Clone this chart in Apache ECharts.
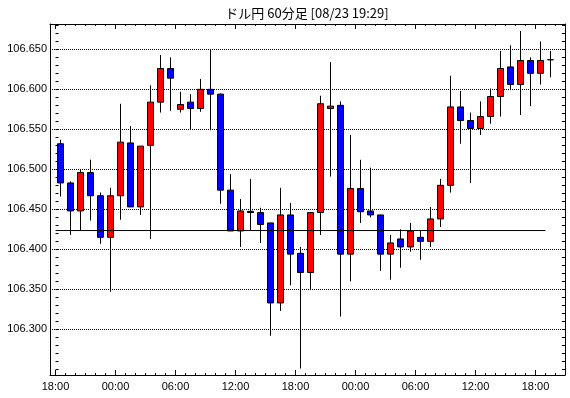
<!DOCTYPE html>
<html><head><meta charset="utf-8">
<script src="https://cdn.jsdelivr.net/npm/echarts@6/dist/echarts.min.js"></script>
<style>html,body{margin:0;padding:0;background:#fff}#c{width:570px;height:398px}</style>
</head><body><div id="c"></div>
<script>
const titleText = 'ドル円 60分足 [08/23 19:29]';
const times = ['18:00','19:00','20:00','21:00','22:00','23:00','00:00','01:00','02:00','03:00',
  '04:00','05:00','06:00','07:00','08:00','09:00','10:00','11:00','12:00','13:00',
  '14:00','15:00','16:00','17:00','18:00','19:00','20:00','21:00','22:00','23:00',
  '00:00','01:00','02:00','03:00','04:00','05:00','06:00','07:00','08:00','09:00',
  '10:00','11:00','12:00','13:00','14:00','15:00','16:00','17:00','18:00','19:00'];
const opens = [106.532,106.483,106.448,106.496,106.467,106.415,106.467,106.533,106.453,106.530,
  106.584,106.626,106.575,106.584,106.576,106.600,106.594,106.474,106.423,106.4475,
  106.446,106.433,106.333,106.443,106.395,106.371,106.446,106.576,106.580,106.394,
  106.476,106.448,106.443,106.394,106.413,106.403,106.415,106.410,106.438,106.480,
  106.578,106.561,106.551,106.566,106.591,106.628,106.606,106.636,106.620,106.637];
const closes = [106.483,106.448,106.496,106.467,106.415,106.467,106.534,106.453,106.529,106.584,
  106.626,106.614,106.581,106.576,106.600,106.594,106.474,106.423,106.448,106.446,
  106.431,106.333,106.443,106.394,106.371,106.446,106.582,106.579,106.394,106.476,
  106.447,106.443,106.394,106.408,106.403,106.423,106.410,106.438,106.480,106.578,
  106.561,106.551,106.566,106.591,106.626,106.606,106.636,106.620,106.636,106.637];
const lows = [106.466,106.418,106.423,106.436,106.407,106.347,106.437,106.453,106.443,106.413,
  106.571,106.573,106.571,106.550,106.572,106.549,106.457,106.423,106.403,106.424,
  106.408,106.292,106.323,106.355,106.251,106.349,106.418,106.491,106.316,106.360,
  106.433,106.440,106.373,106.362,106.377,106.397,106.387,106.403,106.428,106.471,
  106.532,106.483,106.543,106.557,106.566,106.599,106.568,106.579,106.606,106.615];
const highs = [106.537,106.485,106.500,106.512,106.471,106.477,106.582,106.554,106.529,106.605,
  106.643,106.640,106.597,106.594,106.613,106.650,106.595,106.494,106.463,106.488,
  106.452,106.433,106.477,106.458,106.403,106.446,106.592,106.634,106.585,106.543,
  106.512,106.502,106.443,106.418,106.425,106.433,106.424,106.453,106.488,106.617,
  106.598,106.571,106.585,106.601,106.648,106.655,106.673,106.640,106.660,106.648];
const yLabels = [106.300,106.350,106.400,106.450,106.500,106.550,106.600,106.650];
const xLabelHours = [0,6,12,18,24,30,36,42,48];
const xLabels = ['18:00','00:00','06:00','12:00','18:00','00:00','06:00','12:00','18:00'];
const refLevel = [106.4235];
const refSpan = [0, 49];

const Y_MIN = 106.24292, Y_MAX = 106.68167;
const X_MIN = -0.55, X_MAX = 50.95;
const hourTicks = []; for (let h = 0; h <= 50; h++) hourTicks.push(h);
const minorY = []; for (let k = 25; k <= 68; k++) minorY.push(+(106 + k / 100).toFixed(2));

const numFont = '"Liberation Sans", Arial, sans-serif';
const black = '#000';

function xAx(pos, ticks, len, showLine, showLabel) {
  return {
    type: 'value', position: pos, min: X_MIN, max: X_MAX, scale: true,
    axisLine: {show: showLine, onZero: false, lineStyle: {color: black, width: 1}},
    axisTick: {show: true, inside: true, length: len, customValues: ticks, lineStyle: {color: black, width: 1}},
    axisLabel: showLabel ? {show: true, customValues: xLabelHours, margin: 6,
      formatter: v => xLabels[xLabelHours.indexOf(Math.round(v))] || '',
      color: black, fontSize: 11, fontFamily: numFont} : {show: false},
    splitLine: {show: false}
  };
}
function yAx(pos, opts) {
  return Object.assign({
    type: 'value', position: pos, min: Y_MIN, max: Y_MAX, scale: true,
    axisLine: {show: false}, axisLabel: {show: false}, splitLine: {show: false}
  }, opts);
}

const chart = echarts.init(document.getElementById('c'), null, {renderer: 'canvas'});
chart.setOption({
  animation: false,
  backgroundColor: '#fff',
  graphic: [{type: 'text', x: 307, y: 13, silent: true,
    style: {text: titleText, fill: black, font: '13px "Noto Sans CJK JP", sans-serif',
      textAlign: 'center', textVerticalAlign: 'middle'}}],
  grid: {left: 50, right: 5, top: 24, bottom: 23, containLabel: false},
  xAxis: [
    xAx('bottom', xLabelHours, 5, true, true),
    xAx('bottom', hourTicks, 2, false, false),
    xAx('top', xLabelHours, 5, true, false),
    xAx('top', hourTicks, 2, false, false)
  ],
  yAxis: [
    yAx('left', {
      axisLine: {show: true, onZero: false, lineStyle: {color: black, width: 1}},
      axisTick: {show: false, customValues: yLabels},
      axisLabel: {show: true, customValues: yLabels, margin: 3, formatter: v => v.toFixed(3),
        color: black, fontSize: 11, fontFamily: numFont},
      splitLine: {show: true, lineStyle: {color: black, width: 1, type: [1, 1]}}
    }),
    yAx('left', {axisTick: {show: true, inside: true, length: 3, customValues: minorY, lineStyle: {color: black}}}),
    yAx('right', {
      axisLine: {show: true, onZero: false, lineStyle: {color: black, width: 1}},
      axisTick: {show: true, inside: true, length: 3, customValues: minorY, lineStyle: {color: black}}
    })
  ],
  series: [
    {
      type: 'candlestick', xAxisIndex: 0, yAxisIndex: 0,
      data: times.map((t, i) => [i + 0.5, opens[i], closes[i], lows[i], highs[i]]),
      encode: {x: 0, y: [1, 2, 3, 4]},
      barWidth: 6,
      itemStyle: {color: '#ff0000', color0: '#0000ff', borderColor: black, borderColor0: black,
        borderColorDoji: black, borderWidth: 1},
      emphasis: {disabled: true}
    },
    {
      type: 'line', xAxisIndex: 0, yAxisIndex: 0, z: 5,
      data: [[refSpan[0], refLevel[0]], [refSpan[1], refLevel[0]]],
      symbol: 'none', silent: true,
      lineStyle: {color: black, width: 1}
    }
  ]
});
</script></body></html>
